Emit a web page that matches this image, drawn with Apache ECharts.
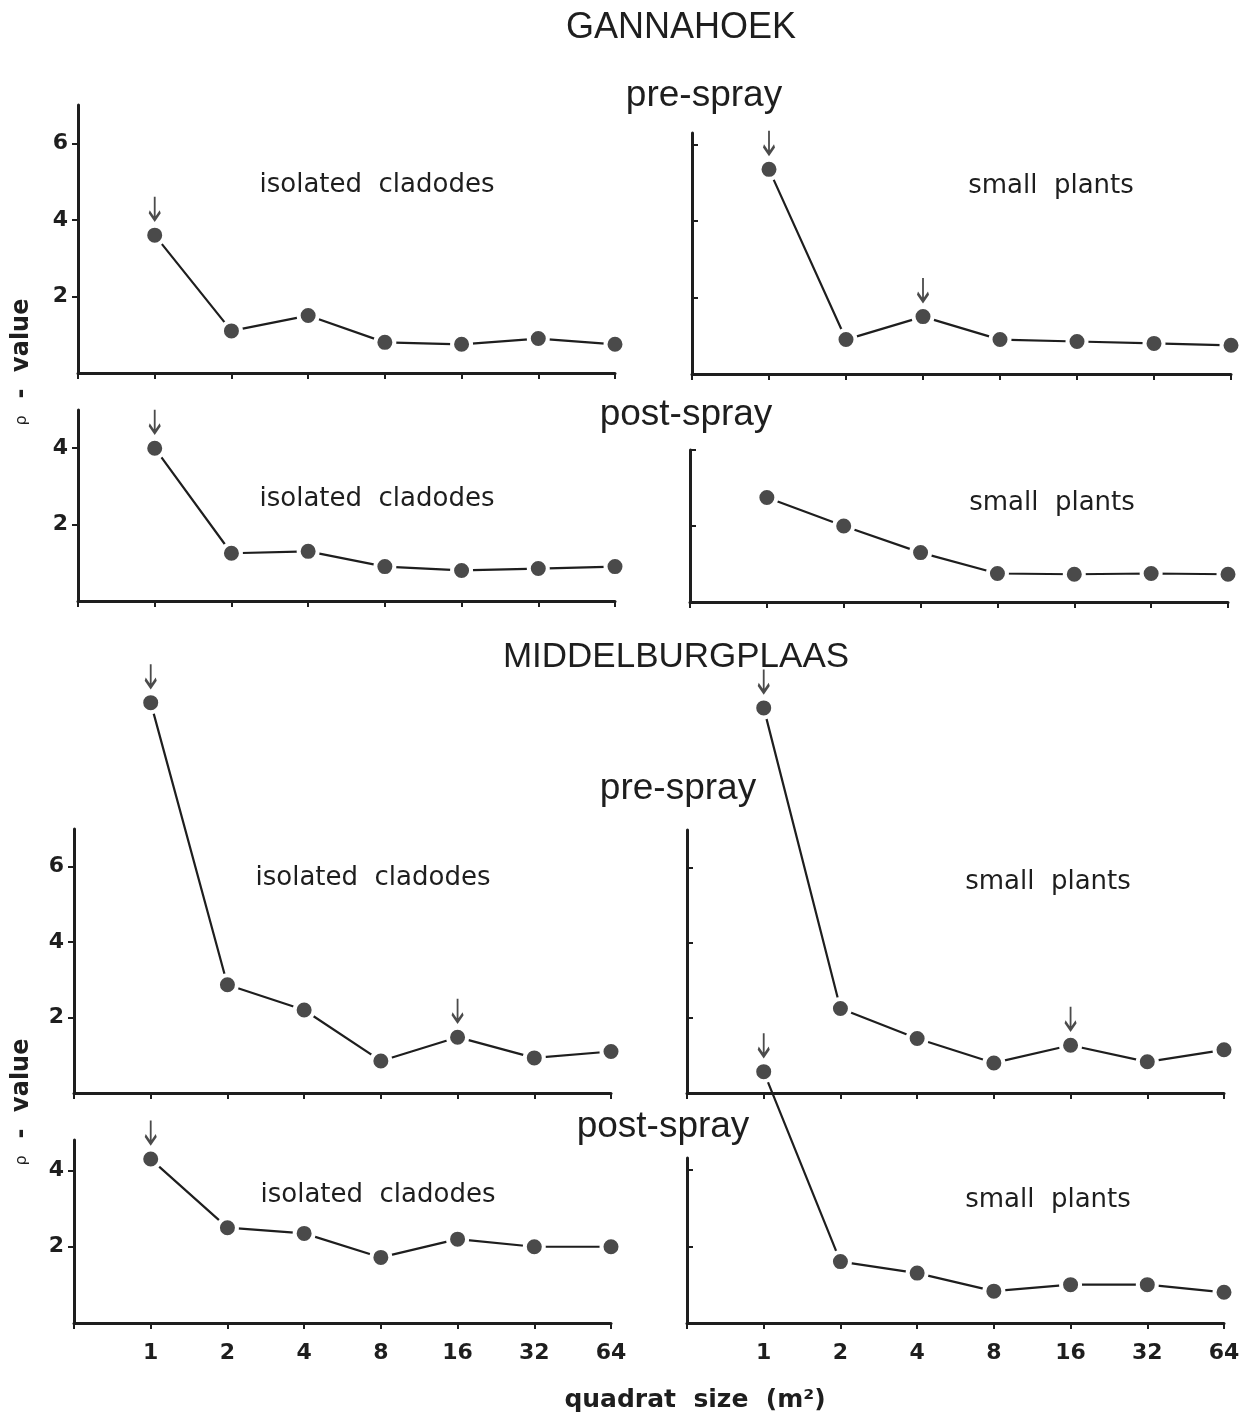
<!DOCTYPE html>
<html>
<head>
<meta charset="utf-8">
<script src="https://cdn.jsdelivr.net/npm/echarts@6/dist/echarts.min.js"></script>
<style>
  html, body { margin: 0; padding: 0; background: #ffffff; }
  #chart { width: 1252px; height: 1419px; }
</style>
</head>
<body>
<div id="chart"></div>
<script>
// Quadrat sizes (m²) along every x axis
const quadratSizes = ['1', '2', '4', '8', '16', '32', '64'];

// Tick values on the ρ-value axes
const yTicksTall = [2, 4, 6];
const yTicksShort = [2, 4];

// ρ-values, Gannahoek
const gannahoekPreCladodes  = [3.6, 1.1, 1.5, 0.8, 0.75, 0.9, 0.75];
const gannahoekPrePlants    = [5.35, 0.9, 1.5, 0.9, 0.85, 0.8, 0.75];
const gannahoekPostCladodes = [4.0, 1.25, 1.3, 0.9, 0.8, 0.85, 0.9];
const gannahoekPostPlants   = [2.75, 2.0, 1.3, 0.75, 0.73, 0.75, 0.73];

// ρ-values, Middelburgplaas
const middelburgPreCladodes  = [10.35, 2.87, 2.2, 0.85, 1.48, 0.93, 1.1];
const middelburgPrePlants    = [10.25, 2.25, 1.45, 0.8, 1.27, 0.83, 1.15];
const middelburgPostCladodes = [4.3, 2.5, 2.35, 1.72, 2.2, 2.0, 2.0];
const middelburgPostPlants   = [6.55, 1.6, 1.3, 0.83, 1.0, 1.0, 0.8];

// Quadrat sizes marked with an arrow in each panel
const gannahoekPreCladodesMarked  = ['1'];
const gannahoekPrePlantsMarked    = ['1', '4'];
const gannahoekPostCladodesMarked = ['1'];
const gannahoekPostPlantsMarked   = [];
const middelburgPreCladodesMarked  = ['1', '16'];
const middelburgPrePlantsMarked    = ['1', '16'];
const middelburgPostCladodesMarked = ['1'];
const middelburgPostPlantsMarked   = ['1'];

// Panel layout: two columns (isolated cladodes | small plants), four rows
const panels = [
  { values: gannahoekPreCladodes,  marked: gannahoekPreCladodesMarked,  ticks: yTicksTall,  max: 7,   left: 78,  top: 105,  width: 537, height: 268, col: 0, bottom: false },
  { values: gannahoekPrePlants,    marked: gannahoekPrePlantsMarked,    ticks: yTicksTall,  max: 6.3, left: 692, top: 133,  width: 539, height: 241, col: 1, bottom: false },
  { values: gannahoekPostCladodes, marked: gannahoekPostCladodesMarked, ticks: yTicksShort, max: 5,   left: 78,  top: 410,  width: 537, height: 191, col: 0, bottom: false },
  { values: gannahoekPostPlants,   marked: gannahoekPostPlantsMarked,   ticks: yTicksShort, max: 4,   left: 690, top: 450,  width: 538, height: 152, col: 1, bottom: false },
  { values: middelburgPreCladodes, marked: middelburgPreCladodesMarked, ticks: yTicksTall,  max: 7,   left: 74,  top: 829,  width: 537, height: 264, col: 0, bottom: false },
  { values: middelburgPrePlants,   marked: middelburgPrePlantsMarked,   ticks: yTicksTall,  max: 7,   left: 687, top: 830,  width: 537, height: 263, col: 1, bottom: false },
  { values: middelburgPostCladodes,marked: middelburgPostCladodesMarked,ticks: yTicksShort, max: 4.8, left: 74,  top: 1140, width: 537, height: 183, col: 0, bottom: true },
  { values: middelburgPostPlants,  marked: middelburgPostPlantsMarked,  ticks: yTicksShort, max: 4.3, left: 687, top: 1158, width: 537, height: 165, col: 1, bottom: true }
];

const INK = '#1e1e1e';
const DOT = '#4a4a4a';
const BOLD_FONT = 'DejaVu Sans';
const TITLE_FONT = 'Liberation Sans';
const ARROW = 'path://M6 0 L6 23 M1 15 L6 23 L11 15';

const grids = [], xAxes = [], yAxes = [], series = [];

panels.forEach((p, i) => {
  grids.push({
    left: p.left, top: p.top, width: p.width, height: p.height,
    containLabel: false, outerBoundsMode: 'none'
  });
  xAxes.push({
    type: 'category',
    gridIndex: i,
    data: [''].concat(quadratSizes),
    boundaryGap: false,
    axisLine: { show: true, onZero: false, lineStyle: { color: INK, width: 3 } },
    axisTick: { show: true, length: 6, lineStyle: { color: INK, width: 2 } },
    axisLabel: {
      show: p.bottom, interval: 0, margin: 19,
      color: INK, fontFamily: BOLD_FONT, fontWeight: 'bold', fontSize: 22
    },
    splitLine: { show: false }
  });
  yAxes.push({
    type: 'value',
    gridIndex: i,
    min: 0,
    max: p.max,
    axisLine: { show: true, lineStyle: { color: INK, width: 3 } },
    axisTick: {
      show: true, inside: p.col === 1, length: 6,
      customValues: p.ticks,
      lineStyle: { color: INK, width: 2 }
    },
    axisLabel: {
      show: p.col === 0, customValues: p.ticks, margin: 10,
      color: INK, fontFamily: BOLD_FONT, fontWeight: 'bold', fontSize: 22
    },
    splitLine: { show: false }
  });
  series.push({
    type: 'line',
    xAxisIndex: i,
    yAxisIndex: i,
    clip: false,
    data: quadratSizes.map((q, k) => [q, p.values[k]]),
    symbol: 'circle',
    symbolSize: 19,
    showAllSymbol: true,
    lineStyle: { color: INK, width: 2.2 },
    itemStyle: { color: DOT, borderColor: '#ffffff', borderWidth: 4 },
    emphasis: { disabled: true },
    silent: true,
    z: 3
  });
  series.push({
    type: 'scatter',
    xAxisIndex: i,
    yAxisIndex: i,
    clip: false,
    data: p.marked.map(q => [q, p.values[quadratSizes.indexOf(q)]]),
    symbol: ARROW,
    symbolSize: [11, 23],
    symbolOffset: [0, -27],
    itemStyle: { color: 'transparent', borderColor: INK, borderWidth: 2.6 },
    emphasis: { disabled: true },
    silent: true,
    z: 4
  });
});

function label(text, x, y, size, family, weight) {
  return {
    type: 'text', x: x, y: y, silent: true,
    style: {
      text: text, fill: INK, fontSize: size, fontFamily: family,
      fontWeight: weight || 'normal', textAlign: 'center', textVerticalAlign: 'middle'
    }
  };
}

function axisName(x, y) {
  return {
    type: 'text', x: x, y: y, rotation: Math.PI / 2, silent: true,
    style: {
      text: '{r|ρ}  -  value',
      fill: INK, fontSize: 24, fontFamily: BOLD_FONT, fontWeight: 'bold',
      textAlign: 'center', textVerticalAlign: 'middle',
      rich: { r: { fontSize: 16, fontWeight: 'normal', fontFamily: BOLD_FONT, fill: INK } }
    }
  };
}

const graphics = [
  label('GANNAHOEK', 681, 28, 36, TITLE_FONT),
  label('pre-spray', 704, 96, 37, TITLE_FONT),
  label('post-spray', 686, 415, 37, TITLE_FONT),
  label('MIDDELBURGPLAAS', 676, 657, 35, TITLE_FONT),
  label('pre-spray', 678, 789, 37, TITLE_FONT),
  label('post-spray', 663, 1127, 37, TITLE_FONT),
  label('isolated  cladodes', 377, 185, 26, BOLD_FONT),
  label('isolated  cladodes', 377, 499, 26, BOLD_FONT),
  label('isolated  cladodes', 373, 878, 26, BOLD_FONT),
  label('isolated  cladodes', 378, 1195, 26, BOLD_FONT),
  label('small  plants', 1051, 186, 26, BOLD_FONT),
  label('small  plants', 1052, 503, 26, BOLD_FONT),
  label('small  plants', 1048, 882, 26, BOLD_FONT),
  label('small  plants', 1048, 1200, 26, BOLD_FONT),
  label('quadrat  size  (m²)', 695, 1400, 25, BOLD_FONT, 'bold'),
  axisName(22, 362),
  axisName(22, 1102)
];

const chart = echarts.init(document.getElementById('chart'), null, { renderer: 'canvas' });
chart.setOption({
  animation: false,
  backgroundColor: '#ffffff',
  grid: grids,
  xAxis: xAxes,
  yAxis: yAxes,
  series: series,
  graphic: graphics
});
</script>
</body>
</html>
